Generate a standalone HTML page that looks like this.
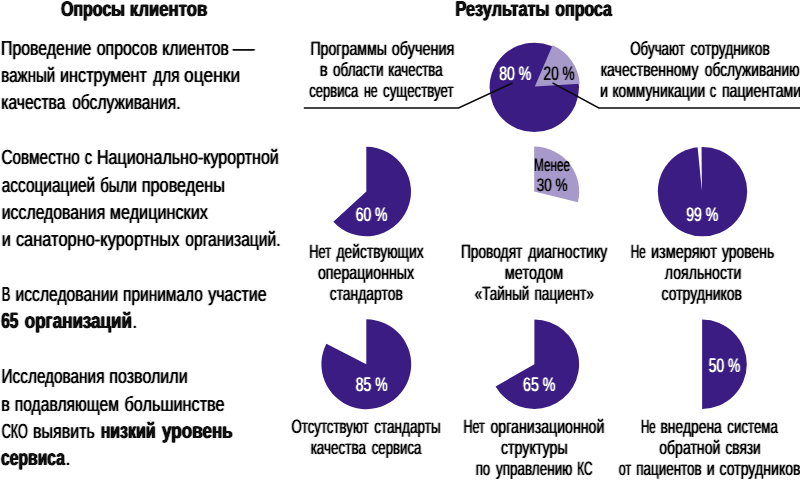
<!DOCTYPE html>
<html lang="ru"><head><meta charset="utf-8"><title>Опросы клиентов</title>
<style>
html,body{margin:0;padding:0;background:#fff;}
body{width:800px;height:483px;overflow:hidden;}
svg{display:block;font-family:"Liberation Sans",sans-serif;}
text{fill:#0a0a0a;text-rendering:geometricPrecision;}
.w text{fill:#fff;}
.hb text{font-weight:700;}
</style></head><body>
<svg width="800" height="483" viewBox="0 0 800 483">
<circle cx="534.3" cy="87.35" r="44.7" fill="#3a1c82"/>
<path d="M534.80,86.60 L552.60,45.27 A45.0,45.0 0 0 1 579.71,83.77 Z" fill="#a79acb"/>
<path d="M366.30,191.55 L366.30,146.85 A44.7,44.7 0 1 1 333.34,221.75 Z" fill="#3a1c82"/>
<path d="M534.20,191.60 L534.20,146.60 A45.0,45.0 0 0 1 577.92,202.26 Z" fill="#a79acb"/>
<circle cx="702.5" cy="191.6" r="44.7" fill="#3a1c82"/>
<path d="M701.9,191 L697.3,144 L701.5,144 Z" fill="#fff"/>
<path d="M366.30,364.25 L366.30,319.35 A44.900000000000006,44.900000000000006 0 1 1 326.40,343.66 Z" fill="#3a1c82"/>
<path d="M534.40,364.25 L534.40,319.55 A44.7,44.7 0 1 1 495.57,386.40 Z" fill="#3a1c82"/>
<path d="M702.10,364.25 L702.10,319.55 A44.7,44.7 0 0 1 702.10,408.95 Z" fill="#3a1c82"/>
<path d="M303.8,107.9 H458.6 L512.5,83" fill="none" stroke="#0a0a0a" stroke-width="1.5"/>
<path d="M800,107.9 H598.8 L552.5,82.8" fill="none" stroke="#0a0a0a" stroke-width="1.5"/>
<defs><filter id="fr" filterUnits="userSpaceOnUse" x="0" y="0" width="800" height="483" color-interpolation-filters="sRGB"><feConvolveMatrix order="3 1" kernelMatrix="0.3 1 0.3" divisor="1" edgeMode="none" preserveAlpha="false"/></filter><filter id="fhb" filterUnits="userSpaceOnUse" x="0" y="0" width="800" height="483" color-interpolation-filters="sRGB"><feConvolveMatrix order="3 1" kernelMatrix="0.42 1 0.42" divisor="1" edgeMode="none" preserveAlpha="false"/></filter><filter id="fw" filterUnits="userSpaceOnUse" x="0" y="0" width="800" height="483" color-interpolation-filters="sRGB"><feConvolveMatrix order="3 1" kernelMatrix="0.28 1 0.28" divisor="1" edgeMode="none" preserveAlpha="false"/></filter><filter id="fpk" filterUnits="userSpaceOnUse" x="0" y="0" width="800" height="483" color-interpolation-filters="sRGB"><feConvolveMatrix order="3 1" kernelMatrix="0.25 1 0.25" divisor="1" edgeMode="none" preserveAlpha="false"/></filter></defs>
<g class="r" filter="url(#fr)"><text y="55" font-size="20.5"><tspan x="1.03" textLength="90.32" lengthAdjust="spacingAndGlyphs">Проведение</tspan> <tspan x="96.66" textLength="60.69" lengthAdjust="spacingAndGlyphs">опросов</tspan> <tspan x="162.28" textLength="66.67" lengthAdjust="spacingAndGlyphs">клиентов</tspan> <tspan x="232.70" textLength="21.80" lengthAdjust="spacingAndGlyphs">—</tspan></text>
<text y="82" font-size="20.5"><tspan x="1.32" textLength="53.91" lengthAdjust="spacingAndGlyphs">важный</tspan> <tspan x="60.00" textLength="86.92" lengthAdjust="spacingAndGlyphs">инструмент</tspan> <tspan x="153.22" textLength="26.25" lengthAdjust="spacingAndGlyphs">для</tspan> <tspan x="184.10" textLength="56.04" lengthAdjust="spacingAndGlyphs">оценки</tspan></text>
<text y="109" font-size="20.5"><tspan x="1.28" textLength="64.10" lengthAdjust="spacingAndGlyphs">качества</tspan> <tspan x="72.18" textLength="108.39" lengthAdjust="spacingAndGlyphs">обслуживания.</tspan></text>
<text y="164" font-size="20.5"><tspan x="1.53" textLength="78.30" lengthAdjust="spacingAndGlyphs">Совместно</tspan> <tspan x="84.71" textLength="7.36" lengthAdjust="spacingAndGlyphs">с</tspan> <tspan x="97.02" textLength="181.78" lengthAdjust="spacingAndGlyphs">Национально-курортной</tspan></text>
<text y="192" font-size="20.5"><tspan x="1.68" textLength="93.58" lengthAdjust="spacingAndGlyphs">ассоциацией</tspan> <tspan x="100.22" textLength="36.77" lengthAdjust="spacingAndGlyphs">были</tspan> <tspan x="141.74" textLength="83.33" lengthAdjust="spacingAndGlyphs">проведены</tspan></text>
<text y="219" font-size="20.5"><tspan x="1.77" textLength="103.48" lengthAdjust="spacingAndGlyphs">исследования</tspan> <tspan x="109.85" textLength="98.02" lengthAdjust="spacingAndGlyphs">медицинских</tspan></text>
<text y="246" font-size="20.5"><tspan x="1.74" textLength="9.07" lengthAdjust="spacingAndGlyphs">и</tspan> <tspan x="15.89" textLength="163.47" lengthAdjust="spacingAndGlyphs">санаторно-курортных</tspan> <tspan x="185.28" textLength="95.30" lengthAdjust="spacingAndGlyphs">организаций.</tspan></text>
<text y="301" font-size="20.5"><tspan x="1.77" textLength="8.60" lengthAdjust="spacingAndGlyphs">В</tspan> <tspan x="15.53" textLength="102.74" lengthAdjust="spacingAndGlyphs">исследовании</tspan> <tspan x="123.05" textLength="79.79" lengthAdjust="spacingAndGlyphs">принимало</tspan> <tspan x="208.30" textLength="58.31" lengthAdjust="spacingAndGlyphs">участие</tspan></text>
<text y="328" font-size="20.5"><tspan x="132.56" textLength="4.45" lengthAdjust="spacingAndGlyphs">.</tspan></text>
<text y="383" font-size="20.5"><tspan x="1.57" textLength="102.90" lengthAdjust="spacingAndGlyphs">Исследования</tspan> <tspan x="109.26" textLength="78.34" lengthAdjust="spacingAndGlyphs">позволили</tspan></text>
<text y="411" font-size="20.5"><tspan x="1.24" textLength="8.62" lengthAdjust="spacingAndGlyphs">в</tspan> <tspan x="14.78" textLength="104.23" lengthAdjust="spacingAndGlyphs">подавляющем</tspan> <tspan x="124.41" textLength="100.21" lengthAdjust="spacingAndGlyphs">большинстве</tspan></text>
<text y="438" font-size="20.5"><tspan x="1.67" textLength="26.13" lengthAdjust="spacingAndGlyphs">СКО</tspan> <tspan x="33.01" textLength="61.85" lengthAdjust="spacingAndGlyphs">выявить</tspan></text>
<text y="465" font-size="20.5"><tspan x="65.66" textLength="4.45" lengthAdjust="spacingAndGlyphs">.</tspan></text>
<text y="55" font-size="19.2"><tspan x="310.42" textLength="76.51" lengthAdjust="spacingAndGlyphs">Программы</tspan> <tspan x="391.72" textLength="62.69" lengthAdjust="spacingAndGlyphs">обучения</tspan></text>
<text y="76" font-size="19.2"><tspan x="319.82" textLength="8.00" lengthAdjust="spacingAndGlyphs">в</tspan> <tspan x="333.01" textLength="50.62" lengthAdjust="spacingAndGlyphs">области</tspan> <tspan x="388.19" textLength="54.46" lengthAdjust="spacingAndGlyphs">качества</tspan></text>
<text y="97" font-size="19.2"><tspan x="309.28" textLength="49.12" lengthAdjust="spacingAndGlyphs">сервиса</tspan> <tspan x="364.00" textLength="13.71" lengthAdjust="spacingAndGlyphs">не</tspan> <tspan x="383.02" textLength="70.61" lengthAdjust="spacingAndGlyphs">существует</tspan></text>
<text y="55" font-size="19.2"><tspan x="630.20" textLength="54.68" lengthAdjust="spacingAndGlyphs">Обучают</tspan> <tspan x="690.50" textLength="79.27" lengthAdjust="spacingAndGlyphs">сотрудников</tspan></text>
<text y="76" font-size="19.2"><tspan x="600.64" textLength="97.81" lengthAdjust="spacingAndGlyphs">качественному</tspan> <tspan x="704.75" textLength="94.75" lengthAdjust="spacingAndGlyphs">обслуживанию</tspan></text>
<text y="97" font-size="19.2"><tspan x="600.11" textLength="8.08" lengthAdjust="spacingAndGlyphs">и</tspan> <tspan x="612.40" textLength="92.75" lengthAdjust="spacingAndGlyphs">коммуникации</tspan> <tspan x="709.78" textLength="6.49" lengthAdjust="spacingAndGlyphs">с</tspan> <tspan x="721.88" textLength="79.40" lengthAdjust="spacingAndGlyphs">пациентами</tspan></text>
<text y="258" font-size="19.2"><tspan x="309.27" textLength="21.84" lengthAdjust="spacingAndGlyphs">Нет</tspan> <tspan x="336.48" textLength="87.11" lengthAdjust="spacingAndGlyphs">действующих</tspan></text>
<text y="279" font-size="19.2"><tspan x="317.98" textLength="96.11" lengthAdjust="spacingAndGlyphs">операционных</tspan></text>
<text y="300" font-size="19.2"><tspan x="329.74" textLength="73.03" lengthAdjust="spacingAndGlyphs">стандартов</tspan></text>
<text y="258" font-size="19.2"><tspan x="460.95" textLength="61.43" lengthAdjust="spacingAndGlyphs">Проводят</tspan> <tspan x="528.23" textLength="78.97" lengthAdjust="spacingAndGlyphs">диагностику</tspan></text>
<text y="279" font-size="19.2"><tspan x="504.86" textLength="58.32" lengthAdjust="spacingAndGlyphs">методом</tspan></text>
<text y="300" font-size="19.2"><tspan x="474.76" textLength="54.61" lengthAdjust="spacingAndGlyphs">«Тайный</tspan> <tspan x="534.41" textLength="59.53" lengthAdjust="spacingAndGlyphs">пациент»</tspan></text>
<text y="258" font-size="19.2"><tspan x="630.76" textLength="15.02" lengthAdjust="spacingAndGlyphs">Не</tspan> <tspan x="650.96" textLength="65.83" lengthAdjust="spacingAndGlyphs">измеряют</tspan> <tspan x="721.90" textLength="52.27" lengthAdjust="spacingAndGlyphs">уровень</tspan></text>
<text y="279" font-size="19.2"><tspan x="664.83" textLength="76.44" lengthAdjust="spacingAndGlyphs">лояльности</tspan></text>
<text y="300" font-size="19.2"><tspan x="661.54" textLength="80.54" lengthAdjust="spacingAndGlyphs">сотрудников</tspan></text>
<text y="433" font-size="19.2"><tspan x="291.45" textLength="77.17" lengthAdjust="spacingAndGlyphs">Отсутствуют</tspan> <tspan x="374.26" textLength="66.37" lengthAdjust="spacingAndGlyphs">стандарты</tspan></text>
<text y="454" font-size="19.2"><tspan x="310.68" textLength="55.22" lengthAdjust="spacingAndGlyphs">качества</tspan> <tspan x="371.77" textLength="49.63" lengthAdjust="spacingAndGlyphs">сервиса</tspan></text>
<text y="433" font-size="19.2"><tspan x="463.55" textLength="21.31" lengthAdjust="spacingAndGlyphs">Нет</tspan> <tspan x="490.48" textLength="113.94" lengthAdjust="spacingAndGlyphs">организационной</tspan></text>
<text y="454" font-size="19.2"><tspan x="500.98" textLength="66.70" lengthAdjust="spacingAndGlyphs">структуры</tspan></text>
<text y="475" font-size="19.2"><tspan x="475.69" textLength="14.56" lengthAdjust="spacingAndGlyphs">по</tspan> <tspan x="496.05" textLength="76.19" lengthAdjust="spacingAndGlyphs">управлению</tspan> <tspan x="577.35" textLength="15.28" lengthAdjust="spacingAndGlyphs">КС</tspan></text>
<text y="433" font-size="19.2"><tspan x="640.97" textLength="14.80" lengthAdjust="spacingAndGlyphs">Не</tspan> <tspan x="660.50" textLength="61.25" lengthAdjust="spacingAndGlyphs">внедрена</tspan> <tspan x="727.37" textLength="50.48" lengthAdjust="spacingAndGlyphs">система</tspan></text>
<text y="454" font-size="19.2"><tspan x="659.14" textLength="61.23" lengthAdjust="spacingAndGlyphs">обратной</tspan> <tspan x="725.45" textLength="35.29" lengthAdjust="spacingAndGlyphs">связи</tspan></text>
<text y="475" font-size="19.2"><tspan x="618.80" textLength="12.47" lengthAdjust="spacingAndGlyphs">от</tspan> <tspan x="636.23" textLength="65.43" lengthAdjust="spacingAndGlyphs">пациентов</tspan> <tspan x="706.78" textLength="7.89" lengthAdjust="spacingAndGlyphs">и</tspan> <tspan x="719.44" textLength="81.15" lengthAdjust="spacingAndGlyphs">сотрудников</tspan></text></g>
<g class="hb" filter="url(#fhb)"><text y="16" font-size="21.3"><tspan x="61.03" textLength="63.90" lengthAdjust="spacingAndGlyphs">Опросы</tspan> <tspan x="129.83" textLength="77.33" lengthAdjust="spacingAndGlyphs">клиентов</tspan></text>
<text y="16" font-size="21.3"><tspan x="455.61" textLength="93.84" lengthAdjust="spacingAndGlyphs">Результаты</tspan> <tspan x="555.36" textLength="56.58" lengthAdjust="spacingAndGlyphs">опроса</tspan></text>
<text y="328" font-size="22"><tspan x="1.13" textLength="17.10" lengthAdjust="spacingAndGlyphs">65</tspan> <tspan x="24.82" textLength="107.11" lengthAdjust="spacingAndGlyphs">организаций</tspan></text>
<text y="438" font-size="22"><tspan x="100.63" textLength="54.98" lengthAdjust="spacingAndGlyphs">низкий</tspan> <tspan x="162.08" textLength="70.67" lengthAdjust="spacingAndGlyphs">уровень</tspan></text>
<text y="465" font-size="22"><tspan x="1.12" textLength="63.82" lengthAdjust="spacingAndGlyphs">сервиса</tspan></text></g>
<g class="pk" filter="url(#fpk)"><text y="80" font-size="19.5"><tspan x="543.57" textLength="31.05" lengthAdjust="spacingAndGlyphs">20 %</tspan></text>
<text y="171" font-size="18"><tspan x="534.12" textLength="35.82" lengthAdjust="spacingAndGlyphs">Менее</tspan></text>
<text y="191" font-size="18"><tspan x="536.67" textLength="30.94" lengthAdjust="spacingAndGlyphs">30 %</tspan></text></g>
<g class="w" filter="url(#fw)"><text y="80" font-size="19.5"><tspan x="499.22" textLength="31.98" lengthAdjust="spacingAndGlyphs">80 %</tspan></text>
<text y="221" font-size="19.5"><tspan x="355.68" textLength="31.81" lengthAdjust="spacingAndGlyphs">60 %</tspan></text>
<text y="221" font-size="19.5"><tspan x="686.25" textLength="32.16" lengthAdjust="spacingAndGlyphs">99 %</tspan></text>
<text y="391" font-size="19.5"><tspan x="355.82" textLength="31.67" lengthAdjust="spacingAndGlyphs">85 %</tspan></text>
<text y="391" font-size="19.5"><tspan x="522.97" textLength="32.44" lengthAdjust="spacingAndGlyphs">65 %</tspan></text>
<text y="372" font-size="19.5"><tspan x="708.83" textLength="31.46" lengthAdjust="spacingAndGlyphs">50 %</tspan></text></g>
</svg>
</body></html>
